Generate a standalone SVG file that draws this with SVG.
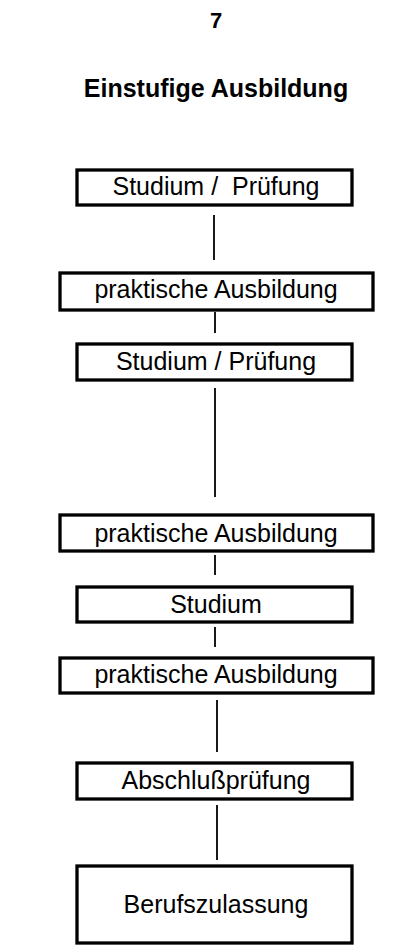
<svg xmlns="http://www.w3.org/2000/svg" width="416" height="947" viewBox="0 0 416 947">
  <style>
    .box { fill: #ffffff; stroke: #000000; stroke-width: 3.3; }
    .lbl { font-family: "Liberation Sans", Arial, sans-serif; font-size: 25px; fill: #000000; text-anchor: middle; }
    .head { font-family: "Liberation Sans", Arial, sans-serif; font-weight: bold; fill: #000000; text-anchor: middle; }
    .conn line { stroke: #000000; stroke-width: 1.8; }
  </style>
  <rect width="416" height="947" fill="#ffffff"/>

  <text class="head" x="216" y="28" font-size="22">7</text>
  <text class="head" x="216" y="97" font-size="25">Einstufige Ausbildung</text>

  <!-- vertical connectors between the stages -->
  <g class="conn" id="connectors">
    <line x1="214" y1="215" x2="214" y2="260"/>
    <line x1="215" y1="312" x2="215" y2="333"/>
    <line x1="215" y1="388" x2="215" y2="497"/>
    <line x1="215" y1="555" x2="215" y2="575"/>
    <line x1="215" y1="627" x2="215" y2="647"/>
    <line x1="217" y1="700" x2="217" y2="752"/>
    <line x1="217" y1="805" x2="217" y2="860"/>
  </g>

  <g id="studium1">
    <rect class="box" x="77" y="170" width="275" height="35"/>
    <text class="lbl" x="216" y="195" xml:space="preserve">Studium /  Prüfung</text>
  </g>
  <g id="praxis1">
    <rect class="box" x="60" y="273" width="313" height="37"/>
    <text class="lbl" x="216" y="298">praktische Ausbildung</text>
  </g>
  <g id="studium2">
    <rect class="box" x="77" y="344" width="275" height="36"/>
    <text class="lbl" x="216" y="370">Studium / Prüfung</text>
  </g>
  <g id="praxis2">
    <rect class="box" x="60" y="515" width="313" height="36"/>
    <text class="lbl" x="216" y="542">praktische Ausbildung</text>
  </g>
  <g id="studium3">
    <rect class="box" x="77" y="587" width="275" height="35"/>
    <text class="lbl" x="216" y="613">Studium</text>
  </g>
  <g id="praxis3">
    <rect class="box" x="60" y="658" width="313" height="35"/>
    <text class="lbl" x="216" y="683">praktische Ausbildung</text>
  </g>
  <g id="abschluss">
    <rect class="box" x="77" y="763" width="275" height="36"/>
    <text class="lbl" x="216" y="789">Abschlußprüfung</text>
  </g>
  <g id="zulassung">
    <rect class="box" x="77" y="866" width="275" height="77"/>
    <text class="lbl" x="216" y="913">Berufszulassung</text>
  </g>
</svg>
